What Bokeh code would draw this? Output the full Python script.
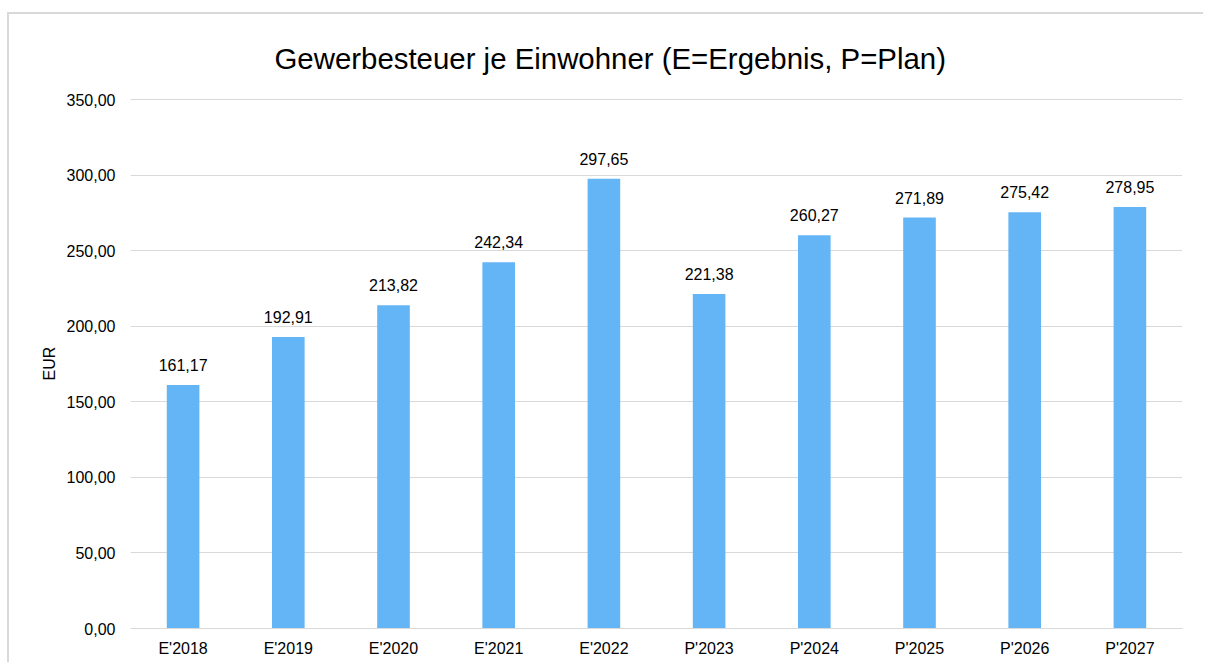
from bokeh.plotting import figure
from bokeh.models import (FactorRange, Range1d, FixedTicker, CustomJSTickFormatter,
                          Title, ColumnDataSource)
from bokeh.core.properties import value
from bokeh.embed import file_html
from bokeh.resources import INLINE

categories = ["E'2018", "E'2019", "E'2020", "E'2021", "E'2022",
              "P'2023", "P'2024", "P'2025", "P'2026", "P'2027"]
values = [161.17, 192.91, 213.82, 242.34, 297.65,
          221.38, 260.27, 271.89, 275.42, 278.95]
y_ticks = [0, 50, 100, 150, 200, 250, 300, 350]
title_text = "Gewerbesteuer je Einwohner (E=Ergebnis, P=Plan)"

FONT = "Liberation Sans"
labels = [f"{v:.2f}".replace(".", ",") for v in values]
src = ColumnDataSource(dict(x=categories, y=values, lbl=labels))

p = figure(width=1196, height=650, output_backend="svg", toolbar_location=None,
           x_range=FactorRange(factors=categories, range_padding=0),
           y_range=Range1d(0, 350.7),
           min_border_left=121, min_border_right=23,
           min_border_top=84, min_border_bottom=36)
p.margin = (12, 0, 0, 7)
p.styles = {"border-left": "2px solid #d9d9d9", "border-top": "2px solid #d9d9d9"}
p.outline_line_color = None
p.background_fill_color = "white"
p.border_fill_color = "white"

p.add_layout(Title(text=title_text,
                   text_font=FONT, text_font_size="29.4px", text_font_style="normal",
                   text_color="#000000", align="left", offset=144, standoff=48), "above")

p.vbar(x="x", top="y", width=0.31, source=src, fill_color="#64B5F6", line_color=None)
p.text(x="x", y="y", text="lbl", source=src, text_align="center",
       text_baseline="alphabetic", y_offset=-20, text_font=value(FONT),
       text_font_size="16px", text_color="#000000")

p.xgrid.grid_line_color = None
p.ygrid.grid_line_color = "#d9d9d9"
p.ygrid.grid_line_width = 1
p.yaxis.ticker = FixedTicker(ticks=y_ticks)
p.yaxis.formatter = CustomJSTickFormatter(code="return tick.toFixed(2).replace('.', ',');")
p.yaxis.axis_line_color = None
p.yaxis.major_tick_line_color = None
p.yaxis.minor_tick_line_color = None
p.yaxis.major_label_standoff = 9
p.yaxis.axis_label = "EUR"
p.yaxis.axis_label_standoff = 6
p.yaxis.axis_label_text_font = FONT
p.yaxis.axis_label_text_font_size = "16px"
p.yaxis.axis_label_text_font_style = "normal"
p.yaxis.axis_label_text_color = "#000000"

p.xaxis.axis_line_color = "#d9d9d9"
p.xaxis.major_tick_line_color = None
p.xaxis.minor_tick_line_color = None
p.xaxis.major_label_standoff = 5

for ax in (p.xaxis, p.yaxis):
    ax.major_label_text_font = FONT
    ax.major_label_text_font_size = "16px"
    ax.major_label_text_color = "#000000"

open("out.html", "w").write(file_html(p, INLINE))
